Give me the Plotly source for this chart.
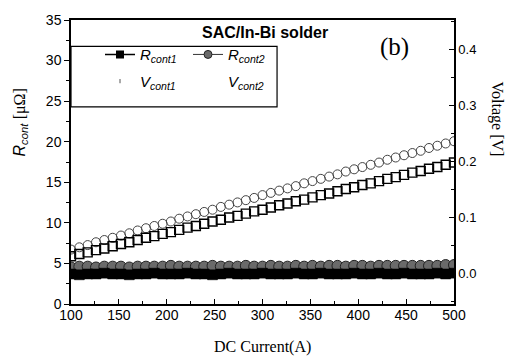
import plotly.graph_objects as go

current = [100.0, 108.7, 117.4, 126.1, 134.8, 143.5, 152.2, 160.9, 169.6, 178.3,
           187.0, 195.7, 204.3, 213.0, 221.7, 230.4, 239.1, 247.8, 256.5, 265.2,
           273.9, 282.6, 291.3, 300.0, 308.7, 317.4, 326.1, 334.8, 343.5, 352.2,
           360.9, 369.6, 378.3, 387.0, 395.7, 404.3, 413.0, 421.7, 430.4, 439.1,
           447.8, 456.5, 465.2, 473.9, 482.6, 491.3, 500.0]

r_cont1 = [3.7, 3.6, 3.7, 3.7, 3.8, 3.7, 3.7, 3.6, 3.7, 3.7,
           3.8, 3.7, 3.7, 3.7, 3.8, 3.7, 3.7, 3.6, 3.7, 3.8,
           3.7, 3.7, 3.7, 3.8, 3.7, 3.7, 3.7, 3.8, 3.7, 3.7,
           3.8, 3.7, 3.7, 3.7, 3.8, 3.7, 3.7, 3.8, 3.7, 3.7,
           3.8, 3.7, 3.7, 3.7, 3.8, 3.7, 3.8]

r_cont2 = [4.5, 4.6, 4.6, 4.5, 4.6, 4.6, 4.6, 4.5, 4.6, 4.6,
           4.6, 4.6, 4.7, 4.6, 4.6, 4.6, 4.6, 4.7, 4.6, 4.6,
           4.6, 4.7, 4.6, 4.6, 4.7, 4.6, 4.6, 4.7, 4.6, 4.7,
           4.6, 4.7, 4.7, 4.6, 4.7, 4.7, 4.6, 4.7, 4.7, 4.7,
           4.7, 4.7, 4.7, 4.7, 4.7, 4.8, 4.8]

v_cont1 = [0.031, 0.035, 0.038, 0.042, 0.045, 0.049, 0.053, 0.056, 0.060, 0.064,
           0.067, 0.071, 0.074, 0.078, 0.082, 0.085, 0.089, 0.093, 0.096, 0.100,
           0.103, 0.107, 0.111, 0.114, 0.118, 0.122, 0.125, 0.129, 0.132, 0.136,
           0.140, 0.143, 0.147, 0.151, 0.154, 0.158, 0.161, 0.165, 0.169, 0.172,
           0.176, 0.180, 0.183, 0.187, 0.190, 0.194, 0.198]

v_cont2 = [0.043, 0.047, 0.051, 0.056, 0.060, 0.064, 0.068, 0.072, 0.077, 0.081,
           0.085, 0.089, 0.093, 0.098, 0.102, 0.106, 0.110, 0.114, 0.119, 0.123,
           0.127, 0.131, 0.135, 0.140, 0.144, 0.148, 0.152, 0.156, 0.161, 0.165,
           0.169, 0.173, 0.177, 0.182, 0.186, 0.190, 0.194, 0.198, 0.203, 0.207,
           0.211, 0.215, 0.219, 0.224, 0.228, 0.232, 0.236]

x_ticks = [100, 150, 200, 250, 300, 350, 400, 450, 500]
y_ticks = [0, 5, 10, 15, 20, 25, 30, 35]
v_ticks = [0.0, 0.1, 0.2, 0.3, 0.4]

SANS = "Liberation Sans, Arial, sans-serif"
SERIF = "Liberation Serif, Times New Roman, serif"

fig = go.Figure()

# data traces
fig.add_trace(go.Scatter(x=current, y=v_cont2, mode="markers", yaxis="y2", showlegend=False,
                         marker=dict(symbol="circle-open", size=9, color="#444444",
                                     line=dict(width=1, color="#444444"))))
fig.add_trace(go.Scatter(x=current, y=v_cont1, mode="markers", yaxis="y2", showlegend=False,
                         marker=dict(symbol="square-open", size=9, color="black",
                                     line=dict(width=1.4, color="black"))))
fig.add_trace(go.Scatter(x=current, y=r_cont2, mode="markers", showlegend=False,
                         marker=dict(symbol="circle", size=11, color="#6a6a6a",
                                     line=dict(width=1, color="#222222"))))
fig.add_trace(go.Scatter(x=current, y=r_cont1, mode="markers", showlegend=False,
                         marker=dict(symbol="square", size=10, color="black",
                                     line=dict(width=0.5, color="black"))))

# legend entries
fig.add_trace(go.Scatter(x=[None], y=[None], mode="lines+markers", legend="legend",
                         name="<i>R</i><sub><i>cont1</i></sub>",
                         line=dict(color="black", width=1.5),
                         marker=dict(symbol="square", size=8, color="black")))
fig.add_trace(go.Scatter(x=[None], y=[None], mode="lines+markers", legend="legend",
                         name="<i>R</i><sub><i>cont2</i></sub>",
                         line=dict(color="#333333", width=1),
                         marker=dict(symbol="circle", size=8, color="#6a6a6a",
                                     line=dict(width=1, color="#222222"))))
fig.add_trace(go.Scatter(x=[None], y=[None], mode="markers", legend="legend2",
                         name="<i>V</i><sub><i>cont1</i></sub>",
                         marker=dict(symbol="line-ns", size=3, color="#555555",
                                     line=dict(width=1, color="#555555"))))
fig.add_trace(go.Scatter(x=[None], y=[None], mode="markers", legend="legend2",
                         name="<i>V</i><sub><i>cont2</i></sub>",
                         marker=dict(symbol="circle", size=1, color="white",
                                     line=dict(width=0, color="white"))))

axis_common = dict(showline=True, linecolor="black", linewidth=1.5, showgrid=False,
                   zeroline=False, tickfont=dict(family=SANS, size=14, color="black"),
                   tickcolor="black", ticklen=5, tickwidth=1.2)

fig.update_layout(
    width=509, height=361,
    margin=dict(l=71, r=55, t=13, b=57),
    paper_bgcolor="white", plot_bgcolor="white",
    xaxis=dict(range=[100, 500], tickvals=x_ticks, ticks="inside", mirror=True,
               ticklabelstandoff=-3,
               minor=dict(ticks="inside", dtick=25, ticklen=3, tickcolor="black"),
               **axis_common),
    yaxis=dict(range=[0, 35], tickvals=y_ticks, ticks="outside",
               minor=dict(ticks="outside", dtick=2.5, ticklen=3, tickcolor="black"),
               **axis_common),
    yaxis2=dict(range=[-0.054, 0.452], tickvals=v_ticks, ticktext=["0.0", "0.1", "0.2", "0.3", "0.4"],
                ticks="inside", overlaying="y", side="right",
                minor=dict(ticks="inside", dtick=0.05, tick0=0, ticklen=3, tickcolor="black"),
                showline=True, linecolor="black", linewidth=1.5, showgrid=False, zeroline=False,
                tickfont=dict(family=SANS, size=13, color="black"),
                tickcolor="black", ticklen=5, tickwidth=1.2),
    legend=dict(orientation="h", x=(100 - 71) / 383, y=0.936, xanchor="left", yanchor="top",
                entrywidth=43, bgcolor="rgba(0,0,0,0)", borderwidth=0,
                font=dict(family=SANS, size=15, color="black"), itemsizing="trace"),
    legend2=dict(orientation="h", x=(100 - 71) / 383, y=0.842, xanchor="left", yanchor="top",
                 entrywidth=43, bgcolor="rgba(0,0,0,0)", borderwidth=0,
                 font=dict(family=SANS, size=15, color="black"), itemsizing="trace"),
    showlegend=True,
    shapes=[dict(type="rect", xref="paper", yref="paper", x0=0, x1=0.538, y0=0.694, y1=0.907,
                 line=dict(color="black", width=1.2))],
    annotations=[
        dict(text="<b>SAC/In-Bi solder</b>", xref="paper", yref="paper",
             x=(265 - 71) / 383, y=(304 - 26) / 291, xanchor="center", yanchor="middle",
             showarrow=False, font=dict(family=SANS, size=16, color="black")),
        dict(text="(b)", xref="paper", yref="paper", x=(394 - 71) / 383, y=(304 - 41) / 291,
             xanchor="center", yanchor="middle",
             showarrow=False, font=dict(family=SERIF, size=25, color="black")),
        dict(text="<i>R</i><sub><i>cont</i></sub> <span style='font-family:Liberation Serif'>[μΩ]</span>",
             xref="paper", yref="paper", x=(20 - 71) / 383, y=(304 - 118) / 291,
             xanchor="center", yanchor="middle",
             textangle=-90, showarrow=False, font=dict(family=SANS, size=16, color="black")),
        dict(text="Voltage [V]", xref="paper", yref="paper", x=(497 - 71) / 383, y=(304 - 114) / 291,
             xanchor="center", yanchor="middle",
             textangle=90, showarrow=False, font=dict(family=SERIF, size=16, color="black")),
        dict(text="DC Current(A)", xref="paper", yref="paper", x=(262 - 71) / 383, y=(304 - 348) / 291,
             xanchor="center", yanchor="middle",
             showarrow=False, font=dict(family=SERIF, size=16, color="black")),
    ],
)

fig.write_html("out.html")
